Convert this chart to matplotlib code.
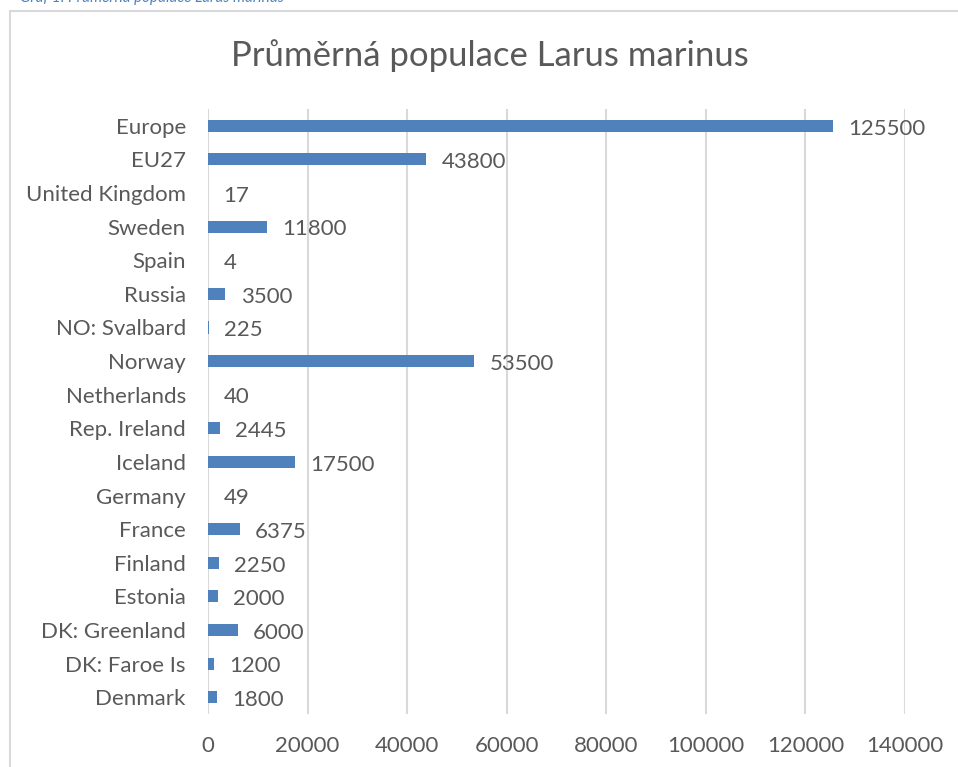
import matplotlib
matplotlib.use("Agg")
import matplotlib.pyplot as plt
from matplotlib.patches import Rectangle

categories = ["Europe", "EU27", "United Kingdom", "Sweden", "Spain", "Russia",
              "NO: Svalbard", "Norway", "Netherlands", "Rep. Ireland", "Iceland",
              "Germany", "France", "Finland", "Estonia", "DK: Greenland",
              "DK: Faroe Is", "Denmark"]
values = [125500, 43800, 17, 11800, 4, 3500, 225, 53500, 40, 2445, 17500,
          49, 6375, 2250, 2000, 6000, 1200, 1800]
xticks = [0, 20000, 40000, 60000, 80000, 100000, 120000, 140000]
title = "Průměrná populace Larus marinus"
caption = "Graf 1: Průměrná populace Larus marinus"

FONT = ["Lato", "DejaVu Sans"]
TXT = "#595959"
BAR = "#4F81BD"
GRID = "#D9D9D9"

plt.rcParams["font.family"] = FONT

W, H = 958, 767
fig = plt.figure(figsize=(W / 100, H / 100), dpi=100)

# outer chart frame
fig.patches.append(Rectangle((10 / W, -0.05), 1.2, 1 - 11 / H + 0.05,
                             transform=fig.transFigure, fill=False,
                             edgecolor=GRID, linewidth=1.5))
# caption above the chart (cut off by the top edge, as in the source)
fig.text(20 / W, 1 - 2 / H, caption, color="#4F81BD", fontsize=11,
         style="italic", va="baseline", ha="left")

ax = fig.add_axes([208 / W, 1 - 714 / H, (905 - 208) / W, (714 - 109) / H])
n = len(categories)
ypos = list(range(n))
ax.barh(ypos, values, height=0.36, color=BAR, zorder=3)
ax.set_ylim(n - 0.5, -0.5)
ax.set_xlim(0, 140000)
ax.set_yticks(ypos)
ax.set_yticklabels(categories)
ax.set_xticks(xticks)
ax.set_xticklabels([str(t) for t in xticks])
ax.tick_params(axis="both", length=0, labelsize=16, labelcolor=TXT)
ax.tick_params(axis="y", pad=16)
ax.tick_params(axis="x", pad=16)
ax.grid(axis="x", color=GRID, linewidth=1.5, zorder=0)
for s in ax.spines.values():
    s.set_visible(False)

for y, v in zip(ypos, values):
    ax.annotate(str(v), xy=(v, y), xytext=(11, -2), textcoords="offset points",
                ha="left", va="center", fontsize=16, color=TXT)

fig.text(490 / W, 1 - 56 / H, title, ha="center", va="center",
         fontsize=25, color=TXT)

fig.savefig("out.png", dpi=100)
